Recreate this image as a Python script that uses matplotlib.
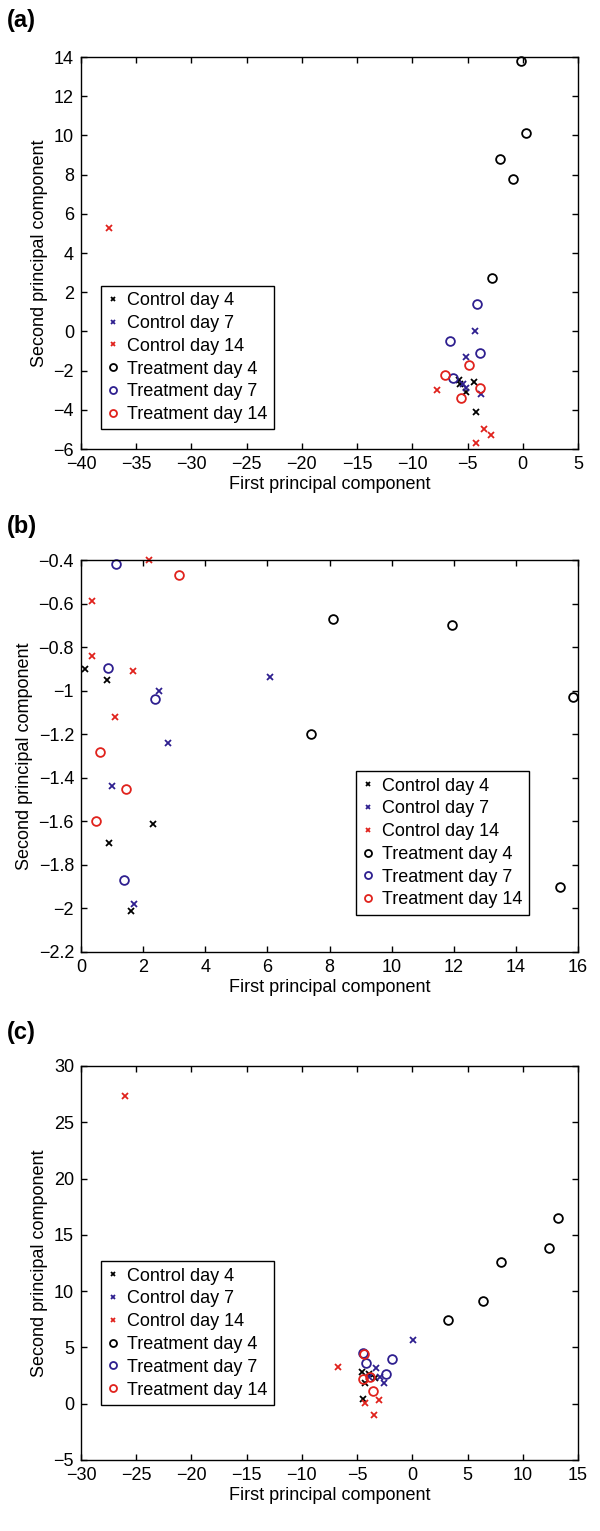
import numpy as np
import matplotlib
matplotlib.use("Agg")
import matplotlib.pyplot as plt

plt.rcParams['font.family'] = ['Liberation Sans', 'DejaVu Sans']
plt.rcParams['font.size'] = 13

labels = ["Control day 4", "Control day 7", "Control day 14",
          "Treatment day 4", "Treatment day 7", "Treatment day 14"]
colors = ["#000000", "#2e1f8f", "#e0221c", "#000000", "#2e1f8f", "#e0221c"]
markers = ["x", "x", "x", "o", "o", "o"]

# panel (a)
a_ctrl4 = [(-5.8, -2.5), (-5.7, -2.7), (-4.4, -2.6), (-5.1, -3.1), (-4.2, -4.1)]
a_ctrl7 = [(-4.3, 0.0), (-5.1, -1.3), (-5.4, -2.7), (-5.1, -2.9), (-3.8, -3.2)]
a_ctrl14 = [(-37.5, 5.3), (-7.8, -3.0), (-3.5, -5.0), (-2.9, -5.3), (-4.2, -5.7)]
a_trt4 = [(-0.2, 13.8), (0.3, 10.1), (-2.1, 8.8), (-0.9, 7.8), (-2.8, 2.7)]
a_trt7 = [(-4.1, 1.4), (-6.6, -0.5), (-3.9, -1.1), (-6.3, -2.4)]
a_trt14 = [(-4.9, -1.7), (-7.0, -2.2), (-3.9, -2.9), (-5.6, -3.4)]

# panel (b)
b_ctrl4 = [(0.13, -0.90), (0.84, -0.95), (2.31, -1.61), (0.90, -1.70), (1.60, -2.01)]
b_ctrl7 = [(6.08, -0.935), (2.52, -1.00), (2.81, -1.24), (0.99, -1.44), (1.70, -1.98)]
b_ctrl14 = [(2.20, -0.40), (0.34, -0.59), (0.34, -0.84), (1.66, -0.91), (1.08, -1.12)]
b_trt4 = [(8.10, -0.67), (11.93, -0.70), (15.85, -1.03), (7.39, -1.20), (15.42, -1.90)]
b_trt7 = [(1.12, -0.42), (0.86, -0.895), (2.38, -1.04), (1.40, -1.87)]
b_trt14 = [(3.16, -0.47), (0.61, -1.28), (1.46, -1.45), (0.49, -1.60)]

# panel (c)
c_ctrl4 = [(-4.6, 2.8), (-3.9, 2.6), (-4.3, 1.8), (-4.5, 0.4), (-3.4, 2.3)]
c_ctrl7 = [(0.1, 5.7), (-3.3, 3.2), (-2.6, 1.8), (-3.9, 2.4), (-2.9, 2.4)]
c_ctrl14 = [(-26.0, 27.3), (-6.7, 3.3), (-4.3, 0.1), (-3.5, -1.0), (-3.0, 0.3)]
c_trt4 = [(13.2, 16.5), (12.4, 13.8), (8.0, 12.6), (6.4, 9.1), (3.2, 7.4)]
c_trt7 = [(-4.5, 4.5), (-1.8, 4.0), (-4.2, 3.6), (-2.4, 2.6)]
c_trt14 = [(-4.4, 4.4), (-4.5, 2.2), (-3.8, 2.4), (-3.6, 1.1)]

panels = [
    ("(a)", [a_ctrl4, a_ctrl7, a_ctrl14, a_trt4, a_trt7, a_trt14],
     (-40, 5), np.arange(-40, 6, 5), (-6, 14), np.arange(-6, 15, 2)),
    ("(b)", [b_ctrl4, b_ctrl7, b_ctrl14, b_trt4, b_trt7, b_trt14],
     (0, 16), np.arange(0, 17, 2), (-2.2, -0.4), np.arange(-2.2, -0.39, 0.2)),
    ("(c)", [c_ctrl4, c_ctrl7, c_ctrl14, c_trt4, c_trt7, c_trt14],
     (-30, 15), np.arange(-30, 16, 5), (-5, 30), np.arange(-5, 31, 5)),
]

W, H = 600, 1531
fig = plt.figure(figsize=(W / 100, H / 100), dpi=100)

# axes boxes in pixels: top, bottom
boxes = [(57, 449), (560, 952), (1066, 1460)]
left, right = 81, 578
legend_pos = [("lower left", (0.04, 0.05)),
              ("lower right", (0.901, 0.095)),
              ("lower left", (0.04, 0.14))]
tag_y = [20, 527, 1032]


def fmt(v):
    return ("%g" % round(v, 1)).replace("-", "\u2212")


for i, (tag, groups, xlim, xt, ylim, yt) in enumerate(panels):
    top, bot = boxes[i]
    ax = fig.add_axes([left / W, 1 - bot / H, (right - left) / W, (bot - top) / H])
    for pts, lab, col, mk in zip(groups, labels, colors, markers):
        arr = np.array(pts)
        if mk == "x":
            ax.plot(arr[:, 0], arr[:, 1], ls="none", marker="x", ms=4.2,
                    mew=1.3, color=col, label=lab, clip_on=False)
        else:
            ax.plot(arr[:, 0], arr[:, 1], ls="none", marker="o", ms=6.3,
                    mew=1.3, mfc="none", mec=col, label=lab, clip_on=False)
    ax.set_xlim(*xlim)
    ax.set_ylim(*ylim)
    ax.set_xticks(xt)
    ax.set_yticks(yt)
    ax.set_xticklabels([fmt(v) for v in xt])
    ax.set_yticklabels([fmt(v) for v in yt])
    ax.tick_params(direction="in", top=True, right=True, length=4, width=1,
                   labelsize=13, pad=5)
    for s in ax.spines.values():
        s.set_linewidth(1)
    ax.set_xlabel("First principal component", fontsize=13, labelpad=2)
    ax.set_ylabel("Second principal component", fontsize=13, labelpad=4)
    loc, anchor = legend_pos[i]
    leg = ax.legend(loc=loc, bbox_to_anchor=anchor, fancybox=False,
                    framealpha=1, edgecolor="black", fontsize=13,
                    handlelength=0.6, handletextpad=0.5, borderpad=0.35,
                    labelspacing=0.32, markerscale=0.8, borderaxespad=0)
    leg.get_frame().set_linewidth(1)
    fig.text(7 / W, 1 - tag_y[i] / H, tag, fontsize=17, fontweight="bold",
             va="center", ha="left")

fig.savefig("out.png", dpi=100)
